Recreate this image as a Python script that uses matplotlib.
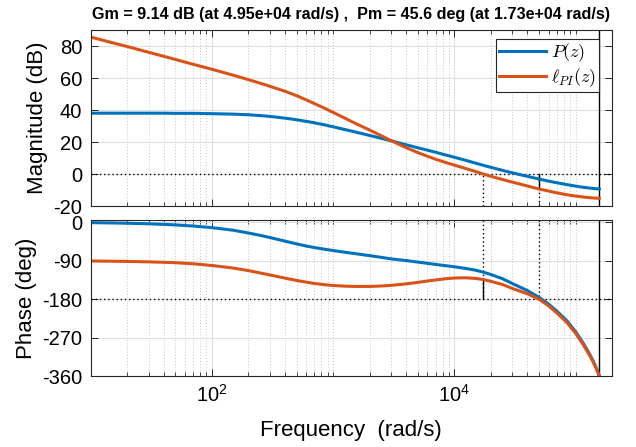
import numpy as np
import matplotlib
matplotlib.use('Agg')
import matplotlib.pyplot as plt
from matplotlib.ticker import FixedLocator, NullFormatter, LogFormatterSciNotation

plt.rcParams['font.family'] = ['Liberation Sans', 'DejaVu Sans']
plt.rcParams['mathtext.fontset'] = 'cm'
plt.rcParams['axes.unicode_minus'] = False

# frequency points (rad/s)
freq = [10, 15, 20, 30, 40, 50, 70, 100, 150, 200, 250, 300, 400, 500, 600,
        700, 850, 1000, 1250, 1500, 2000, 2500, 3000, 4000, 5000, 6000, 7000,
        8500, 1e4, 1.25e4, 1.5e4, 1.75e4, 2e4, 2.5e4, 3e4, 4e4, 5e4, 6e4, 7e4,
        8.5e4, 1e5, 1.15e5, 1.3e5, 1.4e5, 1.5e5, 1.5708e5]

# magnitude (dB)
mag_P = [38.1, 38.1, 38.1, 38.1, 38.1, 38.0, 38.0, 37.8, 37.5, 37.1, 36.6, 36.1,
         35.0, 34.0, 33.0, 32.1, 30.8, 29.6, 27.9, 26.5, 24.2, 22.4, 20.9, 18.4,
         16.5, 15.0, 13.7, 12.0, 10.6, 8.6, 6.9, 5.5, 4.3, 2.4, 0.9, -1.3, -3.0,
         -4.3, -5.3, -6.5, -7.4, -8.1, -8.6, -8.9, -9.1, -9.2]
mag_L = [85.6, 82.1, 79.7, 76.1, 73.6, 71.6, 68.6, 65.5, 61.8, 59.0, 56.8, 54.9,
         51.8, 49.0, 46.4, 44.1, 41.2, 38.6, 35.0, 32.0, 27.6, 24.0, 21.0, 16.6,
         13.5, 11.2, 9.4, 7.3, 5.7, 3.5, 1.7, 0.0, -1.3, -3.3, -4.9, -7.3, -9.2,
         -10.5, -11.6, -12.8, -13.6, -14.2, -14.6, -14.8, -14.95, -15.0]

# phase (deg)
phase_P = [-1.3, -2.0, -2.7, -4.0, -5.3, -6.6, -9.2, -13, -19, -25.5, -31, -36,
           -44.5, -51, -56, -59.5, -63.5, -66.5, -70.5, -73.5, -78.5, -82.5, -86,
           -90, -93.5, -96.5, -99, -102, -104.5, -108.5, -112.5, -117.5, -122.5,
           -132.5, -143.5, -160, -176, -192, -208, -231, -256, -282, -307.5,
           -325.5, -344.5, -360]
phase_L = [-91, -91.5, -92, -93, -94, -95, -97.5, -101.5, -107.5, -113.5, -119,
           -123.5, -131, -136.5, -140.5, -143.5, -146.5, -148.3, -149.8, -150.5,
           -150.5, -149.5, -148, -144.5, -141, -137.8, -135.3, -132.5, -130.8,
           -130.3, -131.8, -134.6, -138.5, -146, -155, -167.5, -180.5, -196,
           -212.5, -235, -260, -285.5, -310.5, -328, -346, -360]

# margins
gm_db = 9.14
gm_freq = 4.95e4
pm_deg = 45.6
pm_freq = 1.73e4
f_nyq = 1.5708e5

blue = '#0072BD'
orange = '#D95319'
dot = (0, (1, 2))

fig = plt.figure(figsize=(6.36, 4.47), dpi=100)
ax1 = fig.add_axes([0.1426, 0.5385, 0.8197, 0.3944])
ax2 = fig.add_axes([0.1426, 0.1588, 0.8197, 0.3497])

mag_lim = (-20, 90)
ph_lim = (-360, 5.6)

major = [1e2, 1e4]
minor = [k * 10.0 ** e for e in range(1, 6) for k in range(1, 10)
         if k * 10.0 ** e not in major and k * 10.0 ** e <= 2e5]

for ax in (ax1, ax2):
    ax.set_xscale('log')
    ax.set_xlim(10, 2e5)
    ax.xaxis.set_major_locator(FixedLocator(major))
    ax.xaxis.set_minor_locator(FixedLocator(minor))
    ax.xaxis.set_minor_formatter(NullFormatter())
    ax.grid(True, which='major', color='#dedede', lw=0.8, ls='-')
    ax.grid(True, which='minor', axis='x', color='#c4c4c4', lw=0.7, ls=dot)
    ax.set_axisbelow(True)
    ax.tick_params(which='both', direction='in', top=True, right=True,
                   colors='#262626', labelcolor='k', labelsize=14.5, pad=6)
    ax.tick_params(which='major', length=5, width=0.7)
    ax.tick_params(which='minor', length=3, width=0.6)
    for s in ax.spines.values():
        s.set_color('#262626')
        s.set_linewidth(0.8)
    ax.axvline(f_nyq, color='k', lw=1.0)

# magnitude
ax1.set_ylim(*mag_lim)
ax1.set_yticks([-20, 0, 20, 40, 60, 80])
ax1.tick_params(labelbottom=False)
ax1.axhline(0, color='k', lw=1.0, ls=dot)
ax1.plot([pm_freq, pm_freq], [mag_lim[0], 0], color='k', lw=1.0, ls=dot)
ax1.plot([gm_freq, gm_freq], [mag_lim[0], 0], color='k', lw=1.0, ls=dot)
ax1.plot([gm_freq, gm_freq], [0, -gm_db], color='k', lw=1.0)
ax1.plot(freq, mag_P, color=blue, lw=2.2, label='$P(z)$')
ax1.plot(freq, mag_L, color=orange, lw=2.2, label=r'$\ell_{PI}(z)$')
ax1.set_ylabel('Magnitude (dB)', fontsize=16, labelpad=4)
leg = ax1.legend(loc='upper right', bbox_to_anchor=(0.975, 0.949), borderaxespad=0,
                 fontsize=13, fancybox=False, framealpha=1, edgecolor='#262626',
                 handlelength=2.6, borderpad=0.15, labelspacing=0.1,
                 handletextpad=0.3)
leg.get_frame().set_linewidth(0.8)

# phase
ax2.set_ylim(*ph_lim)
ax2.set_yticks([-360, -270, -180, -90, 0])
ax2.xaxis.set_major_formatter(LogFormatterSciNotation())
ax2.axhline(-180, color='k', lw=1.0, ls=dot)
ax2.plot([pm_freq, pm_freq], [ph_lim[1], -180], color='k', lw=1.0, ls=dot)
ax2.plot([gm_freq, gm_freq], [ph_lim[1], -180], color='k', lw=1.0, ls=dot)
ax2.plot([pm_freq, pm_freq], [-180, -180 + pm_deg], color='k', lw=1.0)
ax2.plot(freq, phase_P, color=blue, lw=2.2)
ax2.plot(freq, phase_L, color=orange, lw=2.2)
ax2.set_ylabel('Phase (deg)', fontsize=16, labelpad=3.5)
ax2.set_xlabel('Frequency  (rad/s)', fontsize=16, labelpad=10)

title = 'Gm = %.3g dB (at %.2e rad/s) ,  Pm = %.3g deg (at %.2e rad/s)' % (
    gm_db, gm_freq, pm_deg, pm_freq)
fig.text(0.1426 + 0.8197 / 2, 1 - 18.5 / 447, title, ha='center', va='baseline',
         fontsize=11.6, fontweight='bold')

fig.savefig('out.png', dpi=100)
